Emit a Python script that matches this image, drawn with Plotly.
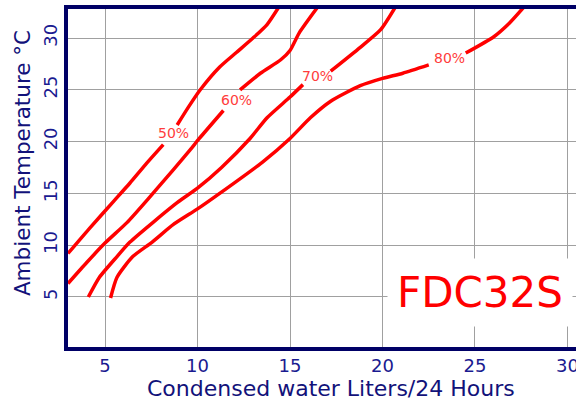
import plotly.graph_objects as go

# condensed water (L/24h) vs ambient temperature, per relative humidity
# None marks the gap left for the curve label
rh50_x = [3.0, 4.2, 5.5, 6.35, 7.2, 8.15, None, 8.9, 9.5, 10.15, 11.2, 12.1, 13.0, 13.76, 14.4]
rh50_y = [9.2, 11.7, 14.3, 16.0, 17.8, 19.7, None, 21.6, 23.3, 25.0, 27.2, 28.6, 30.0, 31.3, 33.0]

rh60_x = [3.0, 4.0, 5.0, 6.2, 7.3, 8.7, 9.6, 10.1, 11.4, None, 12.3, 13.4, 14.5, 15.0, 15.5, 16.5]
rh60_y = [6.3, 8.3, 10.2, 12.2, 14.4, 17.3, 19.2, 20.3, 23.0, None, 25.0, 26.6, 27.9, 28.8, 30.5, 33.0]

rh70_x = [4.1, 4.7, 5.65, 6.35, 8.9, 10.0, 11.3, 12.84, 13.76, 15.0, 15.7, None, 17.2, 18.8, 19.9, 20.7]
rh70_y = [5.0, 6.9, 8.9, 10.3, 14.1, 15.5, 17.5, 20.3, 22.3, 24.3, 25.5, None, 26.8, 29.1, 30.8, 33.0]

rh80_x = [5.3, 5.65, 6.5, 7.55, 8.7, 10.0, 11.2, 13.5, 15.0, 16.1, 17.2, 18.8, 20.0, 21.1, 22.5,
          None, 24.5, 26.0, 26.84, 27.65]
rh80_y = [4.9, 6.9, 8.9, 10.3, 12.0, 13.5, 15.0, 18.0, 20.3, 22.3, 23.9, 25.4, 26.1, 26.6, 27.4,
          None, 28.55, 30.1, 31.4, 33.0]

labels = ['50%', '60%', '70%', '80%']
label_x = [8.68, 12.1, 16.5, 23.6]
label_y = [20.8, 24.0, 26.3, 28.1]

x_ticks = [5, 10, 15, 20, 25, 30]
y_ticks = [5, 10, 15, 20, 25, 30]

x_title = 'Condensed water Liters/24 Hours'
y_title = 'Ambient Temperature °C'

navy = '#000066'
tick_navy = '#1a1a90'
title_navy = '#12127a'
font = 'DejaVu Sans, Verdana, sans-serif'

fig = go.Figure()

for xs, ys in [(rh50_x, rh50_y), (rh60_x, rh60_y), (rh70_x, rh70_y), (rh80_x, rh80_y)]:
    fig.add_trace(
        go.Scatter(
            x=xs,
            y=ys,
            mode='lines',
            line=dict(color='#ff0000', width=3.5, shape='spline', smoothing=0.6),
            connectgaps=False,
            showlegend=False,
            hoverinfo='skip'
        )
    )

for txt, lx, ly in zip(labels, label_x, label_y):
    fig.add_annotation(
        x=lx, y=ly, text=txt, showarrow=False,
        font=dict(family=font, size=14, color='#ff3c3c')
    )

fig.add_annotation(
    x=25.27, y=5.4, text='FDC32S', showarrow=False,
    font=dict(family=font, size=42, color='#ff0000'),
    bgcolor='white', borderpad=9
)

# axis titles as annotations so they can sit off-centre like the original
fig.add_annotation(
    x=0.518, y=-0.122, xref='paper', yref='paper', text=x_title, showarrow=False,
    xanchor='center', yanchor='middle',
    font=dict(family=font, size=22, color=title_navy)
)
fig.add_annotation(
    x=-0.0906, y=0.544, xref='paper', yref='paper', text=y_title, showarrow=False,
    xanchor='center', yanchor='middle', textangle=-90,
    font=dict(family=font, size=21.5, color=title_navy)
)

fig.update_xaxes(
    range=[3.0, 30.46],
    tickvals=x_ticks,
    showgrid=True, gridcolor='#a0a0a0', gridwidth=1,
    showline=True, linecolor=navy, linewidth=3.5, mirror=True,
    zeroline=False, ticks='', automargin=False,
    ticklabeloverflow='allow',
    tickfont=dict(family=font, size=18, color=tick_navy)
)
fig.update_yaxes(
    range=[0.17, 32.8],
    tickvals=y_ticks,
    tickangle=-90,
    showgrid=True, gridcolor='#a0a0a0', gridwidth=1,
    showline=True, linecolor=navy, linewidth=3.5,
    zeroline=False, ticks='', automargin=False,
    tickfont=dict(family=font, size=18, color=tick_navy)
)

fig.update_layout(
    width=576,
    height=403,
    margin=dict(l=68, r=0, t=9, b=56),
    plot_bgcolor='white',
    paper_bgcolor='white'
)

# drop the page's default body margin so the figure sits at the window's corner
fig.write_html('out.html', config={'displayModeBar': False},
               post_script="document.body.style.margin='0px';")
